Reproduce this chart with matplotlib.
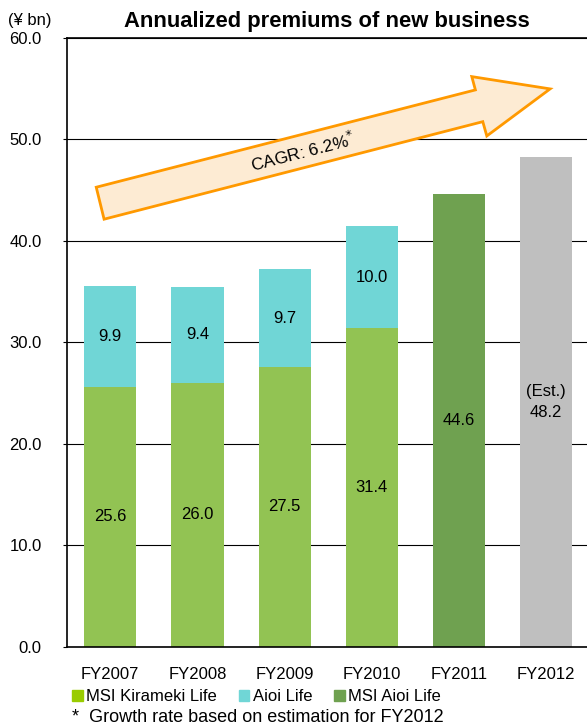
import matplotlib.pyplot as plt
from matplotlib.patches import Polygon, Patch
import numpy as np

plt.rcParams['font.family'] = ['Liberation Sans', 'DejaVu Sans']

# Data (¥ bn)
years = ['FY2007', 'FY2008', 'FY2009', 'FY2010', 'FY2011', 'FY2012']
kirameki = [25.6, 26.0, 27.5, 31.4]      # FY2007-FY2010
aioi = [9.9, 9.4, 9.7, 10.0]             # FY2007-FY2010
msi_aioi = [44.6]                        # FY2011
estimate = [48.2]                        # FY2012 (Est.)
yticks = [0, 10, 20, 30, 40, 50, 60]

c_kira = '#92C353'
c_aioi = '#70D6D6'
c_msiaioi = '#6FA150'
c_est = '#BFBFBF'

fig = plt.figure(figsize=(5.87, 7.24), dpi=100)
ax = fig.add_axes([0.1136, 0.107, 0.8864, 0.841])

x = np.arange(len(years))
w = 0.6
x_old = x[:4]
ax.bar(x_old, kirameki, w, color=c_kira, zorder=2)
ax.bar(x_old, aioi, w, bottom=kirameki, color=c_aioi, zorder=2)
ax.bar(x[4:5], msi_aioi, w, color=c_msiaioi, zorder=2)
ax.bar(x[5:6], estimate, w, color=c_est, zorder=2)

# value labels
fs = 12
for xi, k, a in zip(x_old, kirameki, aioi):
    ax.text(xi, k / 2, f'{k:.1f}', ha='center', va='center', fontsize=fs, zorder=3)
    ax.text(xi, k + a / 2, f'{a:.1f}', ha='center', va='center', fontsize=fs, zorder=3)
ax.text(x[4], msi_aioi[0] / 2, f'{msi_aioi[0]:.1f}', ha='center', va='center', fontsize=fs, zorder=3)
ax.text(x[5], estimate[0] / 2, f'(Est.)\n{estimate[0]:.1f}', ha='center', va='center',
        fontsize=fs, linespacing=1.5, zorder=3)

ax.set_xlim(-0.5, 5.467)
ax.set_ylim(0, 60)
ax.set_yticks(yticks)
ax.set_yticklabels([f'{v:.1f}' for v in yticks], fontsize=fs)
ax.set_xticks(x)
ax.set_xticklabels(years, fontsize=fs)
ax.tick_params(axis='x', length=0, pad=15)
ax.tick_params(axis='y', length=3, width=0.8, pad=15)
ax.yaxis.grid(True, color='black', linewidth=0.8, zorder=0)
ax.set_axisbelow(True)
for s in ['left', 'bottom', 'top']:
    ax.spines[s].set_color('black')
    ax.spines[s].set_linewidth(1.2)
ax.spines['right'].set_visible(False)

ax.set_title('Annualized premiums of new business', fontsize=15.8, fontweight='bold', pad=8)
fig.text(30 / 587, 1 - 20 / 724, '(¥ bn)', ha='center', va='center', fontsize=fs)

# CAGR arrow
arrow_pts = [(-0.071, 42.11), (-0.161, 45.26), (4.187, 54.85), (4.146, 56.16),
             (5.044, 54.95), (4.318, 50.31), (4.272, 51.72)]
ax.add_patch(Polygon(arrow_pts, closed=True, facecolor='#FDEBD3', edgecolor='#FF9900',
                     linewidth=2, zorder=4, clip_on=False))
ax.text(2.21, 48.8, 'CAGR: 6.2%$^{*}$', ha='center', va='center', rotation=14.5,
        rotation_mode='anchor', fontsize=12.5, zorder=5)

# legend
handles = [Patch(color='#99CC00', label='MSI Kirameki Life'),
           Patch(color=c_aioi, label='Aioi Life'),
           Patch(color=c_msiaioi, label='MSI Aioi Life')]
fig.legend(handles=handles, loc='center left', bbox_to_anchor=(72 / 587, 1 - 696.5 / 724),
           ncol=3, frameon=False, fontsize=fs, handlelength=0.65, handleheight=0.65,
           handletextpad=0.2, columnspacing=1.3, borderpad=0, borderaxespad=0)
fig.text(72 / 587, 1 - 717 / 724, '*  Growth rate based on estimation for FY2012',
         ha='left', va='center', fontsize=13)

fig.savefig('out.png', dpi=100)
